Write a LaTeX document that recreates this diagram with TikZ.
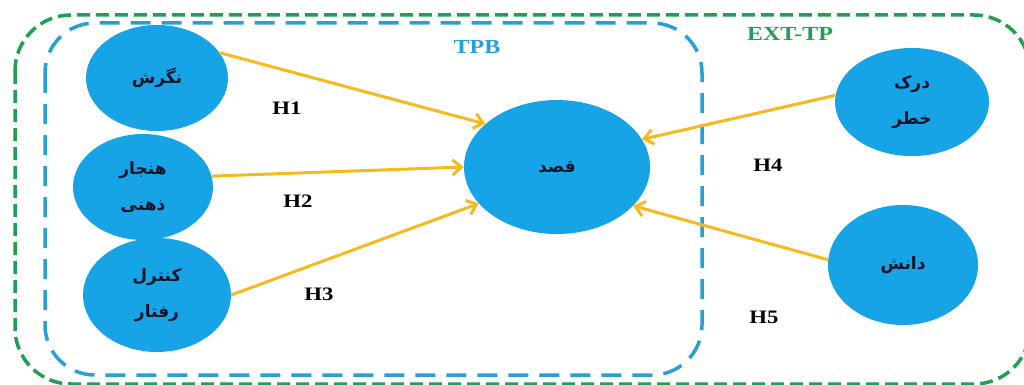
\documentclass[tikz,border=0pt]{standalone}
\usepackage{fontspec}
\usetikzlibrary{shapes.geometric,arrows.meta}
\TeXXeTstate=1
\newfontfamily\arabicfont[Script=Arabic]{DejaVu Sans}
\newfontfamily\hfont[FakeStretch=1.2]{Liberation Serif}
\definecolor{nodeblue}{RGB}{22,164,230}
\definecolor{arrowgold}{RGB}{246,186,30}
\definecolor{tpbblue}{RGB}{40,160,212}
\definecolor{extgreen}{RGB}{32,160,82}
\definecolor{labelink}{RGB}{20,20,40}
\tikzset{
  construct/.style={ellipse, fill=nodeblue, draw=none, inner sep=0pt,
    align=center, text=labelink, font=\arabicfont\bfseries\fontsize{17}{36}\selectfont},
  hpath/.style={draw=arrowgold, line width=3pt,
    -{Straight Barb[length=9pt,width=15pt,line width=3pt]}},
  hyp/.style={font=\hfont\bfseries\fontsize{19}{20}\selectfont},
  frametitle/.style={font=\hfont\bfseries\fontsize{20}{21}\selectfont},
  tpbframe/.style={draw=tpbblue, line width=3.5pt, dash pattern=on 20pt off 11pt, rounded corners=50pt},
  extframe/.style={draw=extgreen, line width=3.5pt, dash pattern=on 13pt off 6pt, rounded corners=56pt},
}
\begin{document}
\begin{tikzpicture}[x=1pt,y=-1pt]
\useasboundingbox (0,0) rectangle (1024,385);
\clip (0,0) rectangle (1024,385);
\fill[white] (0,0) rectangle (1024,385);

% model frames
\draw[extframe] (15,15) rectangle (1030,384);
\draw[tpbframe] (45,23) rectangle (702,375);
\node[frametitle, text=tpbblue] (tpb) at (477,47) {TPB};
\node[frametitle, text=extgreen] (ext) at (790,34) {EXT-TP};

% constructs
\node[construct, minimum width=142pt, minimum height=106pt] (att) at (157,78) {\beginR نگرش\endR};
\node[construct, minimum width=140pt, minimum height=106pt] (sn) at (143,187) {\beginR هنجار\endR\\\beginR ذهنی\endR};
\node[construct, minimum width=148pt, minimum height=114pt] (pbc) at (157,295) {\beginR کنترل\endR\\\beginR رفتار\endR};
\node[construct, minimum width=186pt, minimum height=134pt] (int) at (557,167) {\beginR قصد\endR};
\node[construct, minimum width=154pt, minimum height=108pt] (risk) at (912,102) {\beginR درک\endR\\\beginR خطر\endR};
\node[construct, minimum width=150pt, minimum height=120pt] (know) at (903,265) {\beginR دانش\endR};

% hypothesised paths
\draw[hpath] (att.22) -- (int.149);
\draw[hpath] (sn.9) -- (int.180);
\draw[hpath] (pbc.0) -- (int.205);
\draw[hpath] (risk.175) -- (int.18);
\draw[hpath] (know.176) -- (int.-27);

% path labels
\node[hyp] (h1) at (287,108) {H1};
\node[hyp] (h2) at (298,201) {H2};
\node[hyp] (h3) at (319,294) {H3};
\node[hyp] (h4) at (768,165) {H4};
\node[hyp] (h5) at (764,317) {H5};
\end{tikzpicture}
\end{document}
